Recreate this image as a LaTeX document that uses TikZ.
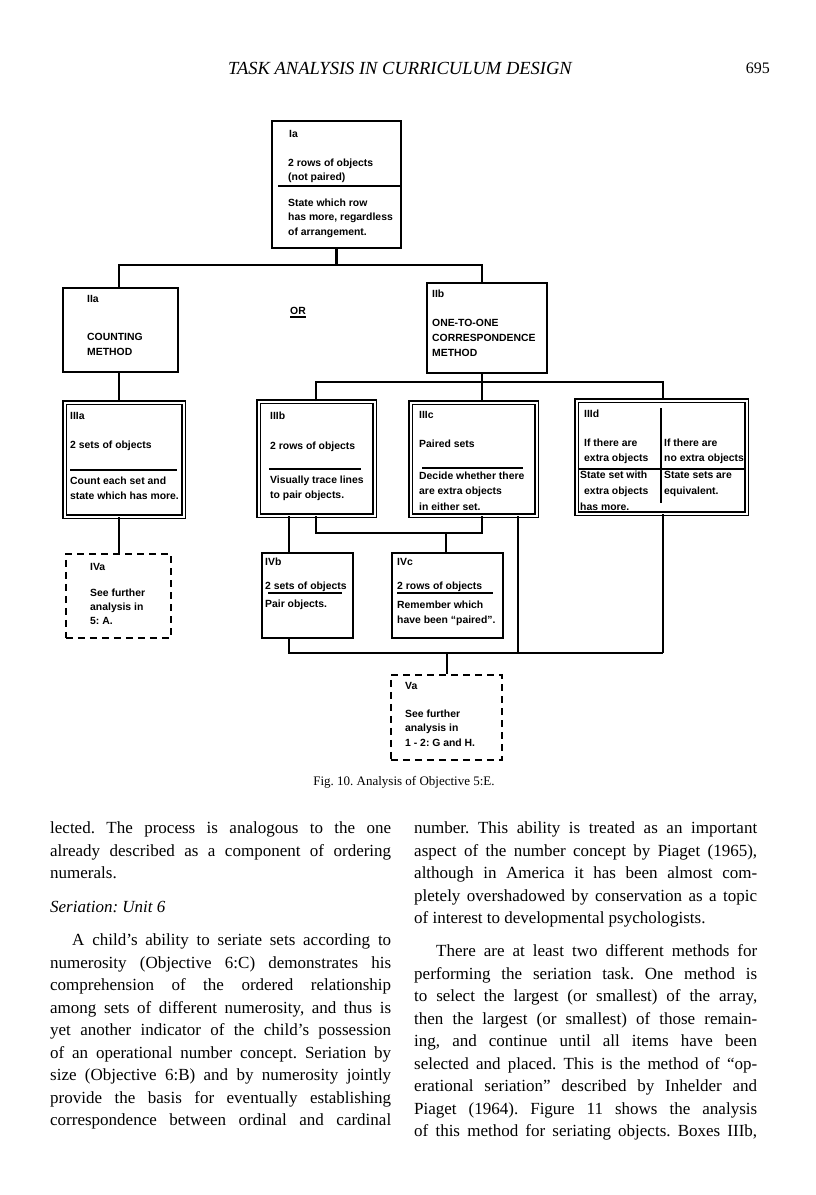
\documentclass[tikz,border=0pt]{standalone}
\usepackage{fontspec}
\setmainfont{Liberation Serif}
\newfontfamily\dsans{Liberation Sans}
\newcommand\tx[4]{\node[lbl] (#1) at (#2,#3) {#4};}
\newcommand\jline[5]{\node[body] (#1) at (#2,#3) {\makebox[#4][s]{#5}};}
\newcommand\pline[4]{\node[body] (#1) at (#2,#3) {#4};}
\begin{document}
\frenchspacing
\begin{tikzpicture}[x=1pt,y=-1pt,
  box/.style={draw,line width=1.6pt,inner sep=0pt,anchor=north west},
  dbox/.style={draw,double,double distance=2.2pt,line width=1.2pt,inner sep=0pt,anchor=north west},
  dashbox/.style={draw,line width=1.6pt,dash pattern=on 7pt off 5pt,inner sep=0pt,anchor=north west},
  conn/.style={line width=2.6pt},
  divline/.style={line width=1.2pt},
  lbl/.style={font=\dsans\bfseries\fontsize{10.4}{12}\selectfont,anchor=base west,inner sep=0pt},
  body/.style={font=\fontsize{17}{20}\selectfont,anchor=base west,inner sep=0pt},
]
\useasboundingbox[fill=white] (0,0) rectangle (816,1195);

% header
\node[font=\itshape\fontsize{18.5}{20}\selectfont,inner sep=0pt] (hd) at (400,68) {TASK\ ANALYSIS\ IN\ CURRICULUM\ DESIGN};
\node[font=\fontsize{16}{20}\selectfont,anchor=east,inner sep=0pt] (pg) at (770,68) {695};

% boxes
\node[box,minimum width=129pt,minimum height=127pt] (Ia) at (271,120) {};
\node[box,minimum width=115pt,minimum height=84pt] (IIa) at (62,287) {};
\node[box,minimum width=120pt,minimum height=90pt] (IIb) at (426,282) {};
\node[dbox,minimum width=119pt,minimum height=114pt] (IIIa) at (64,402) {};
\node[dbox,minimum width=116pt,minimum height=114pt] (IIIb) at (258,401) {};
\node[dbox,minimum width=126pt,minimum height=113pt] (IIIc) at (410,402) {};
\node[dbox,minimum width=170pt,minimum height=113pt] (IIId) at (576,400) {};
\node[dashbox,minimum width=105pt,minimum height=84pt] (IVa) at (65,553) {};
\node[box,minimum width=91pt,minimum height=85pt] (IVb) at (261,552) {};
\node[box,minimum width=111pt,minimum height=85pt] (IVc) at (391,552) {};
\node[dashbox,minimum width=111pt,minimum height=85pt] (Va) at (390,674) {};

% Ia
\tx{Ia1}{289}{137}{Ia}
\tx{Ia2}{288}{166}{2 rows of objects}
\tx{Ia3}{288}{180}{(not paired)}
\tx{Ia4}{288}{206}{State which row}
\tx{Ia5}{288}{220}{has more, regardless}
\tx{Ia6}{288}{235}{of arrangement.}
\draw[divline] (Ia.west |- 0,186) ++(7,0) -- (Ia.east |- 0,186);
% IIa
\tx{IIa1}{87}{302}{IIa}
\tx{IIa2}{87}{340}{COUNTING}
\tx{IIa3}{87}{355}{METHOD}
% OR
\node[font=\dsans\bfseries\fontsize{10.4}{12}\selectfont,inner sep=0pt] (or) at (298,311) {OR};
\draw[line width=1.8pt] ([yshift=-2pt]or.south west) -- ([yshift=-2pt]or.south east);
% IIb
\tx{IIb1}{432}{297}{IIb}
\tx{IIb2}{432}{326}{ONE-TO-ONE}
\tx{IIb3}{432}{341}{CORRESPONDENCE}
\tx{IIb4}{432}{356}{METHOD}
% IIIa
\tx{IIIa1}{70}{419}{IIIa}
\tx{IIIa2}{70}{448}{2 sets of objects}
\tx{IIIa3}{70}{484}{Count each set and}
\tx{IIIa4}{70}{499}{state which has more.}
\draw[divline] (70,470) -- (177,470);
% IIIb
\tx{IIIb1}{270}{419}{IIIb}
\tx{IIIb2}{270}{449}{2 rows of objects}
\tx{IIIb3}{270}{483}{Visually trace lines}
\tx{IIIb4}{270}{498}{to pair objects.}
\draw[divline] (269,469) -- (361,469);
% IIIc
\tx{IIIc1}{419}{418}{IIIc}
\tx{IIIc2}{419}{447}{Paired sets}
\tx{IIIc3}{419}{479}{Decide whether there}
\tx{IIIc4}{419}{494}{are extra objects}
\tx{IIIc5}{419}{510}{in either set.}
\draw[divline] (422,468) -- (523,468);
% IIId
\tx{IIId1}{584}{417}{IIId}
\tx{IIId2}{584}{446}{If there are}
\tx{IIId3}{584}{461}{extra objects}
\tx{IIId4}{580}{478}{State set with}
\tx{IIId5}{584}{494}{extra objects}
\tx{IIId6}{580}{510}{has more.}
\tx{IIId7}{664}{446}{If there are}
\tx{IIId8}{664}{461}{no extra objects}
\tx{IIId9}{664}{478}{State sets are}
\tx{IIId10}{664}{494}{equivalent.}
\draw[divline] (578,469) -- (744,469);
\draw[divline] (661,408) -- (661,503);
% IVa
\tx{IVa1}{90}{570}{IVa}
\tx{IVa2}{90}{596}{See further}
\tx{IVa3}{90}{610}{analysis in}
\tx{IVa4}{90}{624}{5: A.}
% IVb
\tx{IVb1}{265}{565}{IVb}
\tx{IVb2}{265}{589}{2 sets of objects}
\tx{IVb3}{265}{607}{Pair objects.}
\draw[divline] (268,593) -- (342,593);
% IVc
\tx{IVc1}{397}{565}{IVc}
\tx{IVc2}{397}{589}{2 rows of objects}
\tx{IVc3}{397}{608}{Remember which}
\tx{IVc4}{397}{623}{have been “paired”.}
\draw[divline] (397,593) -- (493,593);
% Va
\tx{Va1}{405}{689}{Va}
\tx{Va2}{405}{717}{See further}
\tx{Va3}{405}{731}{analysis in}
\tx{Va4}{405}{746}{1 - 2: G and H.}

% connector coordinates
\coordinate (b1) at (0,265);
\coordinate (b2) at (0,382);
\coordinate (b3) at (0,533);
\coordinate (b4) at (0,653);
\coordinate (xL) at (119,0);
\coordinate (xR) at (482,0);
\coordinate (xB) at (316,0);
\coordinate (xD) at (663,0);
\coordinate (xE) at (289,0);
\coordinate (xF) at (446,0);
\coordinate (xG) at (518,0);
\coordinate (xH) at (447,0);

\draw[conn] (Ia.south) -- (Ia.south |- b1);
\draw[conn] (IIa.north -| xL) -- (xL |- b1) -- (xR |- b1) -- (IIb.north -| xR);
\draw[conn] (IIa.south -| xL) -- (IIIa.north -| xL);
\draw[conn] (IIIa.south -| xL) -- (IVa.north -| xL);
\draw[conn] (IIb.south -| xR) -- (IIIc.north -| xR);
\draw[conn] (IIIb.north -| xB) -- (xB |- b2) -- (xD |- b2) -- (IIId.north -| xD);
\draw[conn] (IIIb.south -| xE) -- (IVb.north -| xE);
\draw[conn] (IIIb.south -| xB) -- (xB |- b3) -- (xR |- b3) -- (IIIc.south -| xR);
\draw[conn] (xF |- b3) -- (IVc.north -| xF);
\draw[conn] (IIIc.south -| xG) -- (xG |- b4);
\draw[conn] (IIId.south -| xD) -- (xD |- b4);
\draw[conn] (IVb.south -| xE) -- (xE |- b4) -- (xD |- b4);
\draw[conn] (xH |- b4) -- (Va.north -| xH);

% caption
\node[font=\fontsize{13}{15}\selectfont,inner sep=0pt] (cap) at (404,782) {Fig. 10. Analysis of Objective 5:E.};

% left column
\jline{L1}{50}{833}{341pt}{lected. The process is analogous to the one}
\jline{L2}{50}{856}{341pt}{already described as a component of ordering}
\pline{L3}{50}{878}{numerals.}
\pline{L4}{50}{912}{\itshape Seriation: Unit 6}
\jline{L5}{72}{945}{319pt}{A child’s ability to seriate sets according to}
\jline{L6}{50}{968}{341pt}{numerosity (Objective 6:C) demonstrates his}
\jline{L7}{50}{990}{341pt}{comprehension of the ordered relationship}
\jline{L8}{50}{1013}{341pt}{among sets of different numerosity, and thus is}
\jline{L9}{50}{1035}{341pt}{yet another indicator of the child’s possession}
\jline{L10}{50}{1058}{341pt}{of an operational number concept. Seriation by}
\jline{L11}{50}{1080}{341pt}{size (Objective 6:B) and by numerosity jointly}
\jline{L12}{50}{1103}{341pt}{provide the basis for eventually establishing}
\jline{L13}{50}{1125}{341pt}{correspondence between ordinal and cardinal}

% right column
\jline{R1}{414}{833}{343pt}{number. This ability is treated as an important}
\jline{R2}{414}{856}{343pt}{aspect of the number concept by Piaget (1965),}
\jline{R3}{414}{878}{343pt}{although in America it has been almost com-}
\jline{R4}{414}{901}{343pt}{pletely overshadowed by conservation as a topic}
\pline{R5}{414}{923}{of interest to developmental psychologists.}
\jline{R6}{436}{956}{321pt}{There are at least two different methods for}
\jline{R7}{414}{979}{343pt}{performing the seriation task. One method is}
\jline{R8}{414}{1001}{343pt}{to select the largest (or smallest) of the array,}
\jline{R9}{414}{1024}{343pt}{then the largest (or smallest) of those remain-}
\jline{R10}{414}{1046}{343pt}{ing, and continue until all items have been}
\jline{R11}{414}{1069}{343pt}{selected and placed. This is the method of “op-}
\jline{R12}{414}{1091}{343pt}{erational seriation” described by Inhelder and}
\jline{R13}{414}{1114}{343pt}{Piaget (1964). Figure 11 shows the analysis}
\jline{R14}{414}{1136}{343pt}{of this method for seriating objects. Boxes IIIb,}
\end{tikzpicture}
\end{document}
